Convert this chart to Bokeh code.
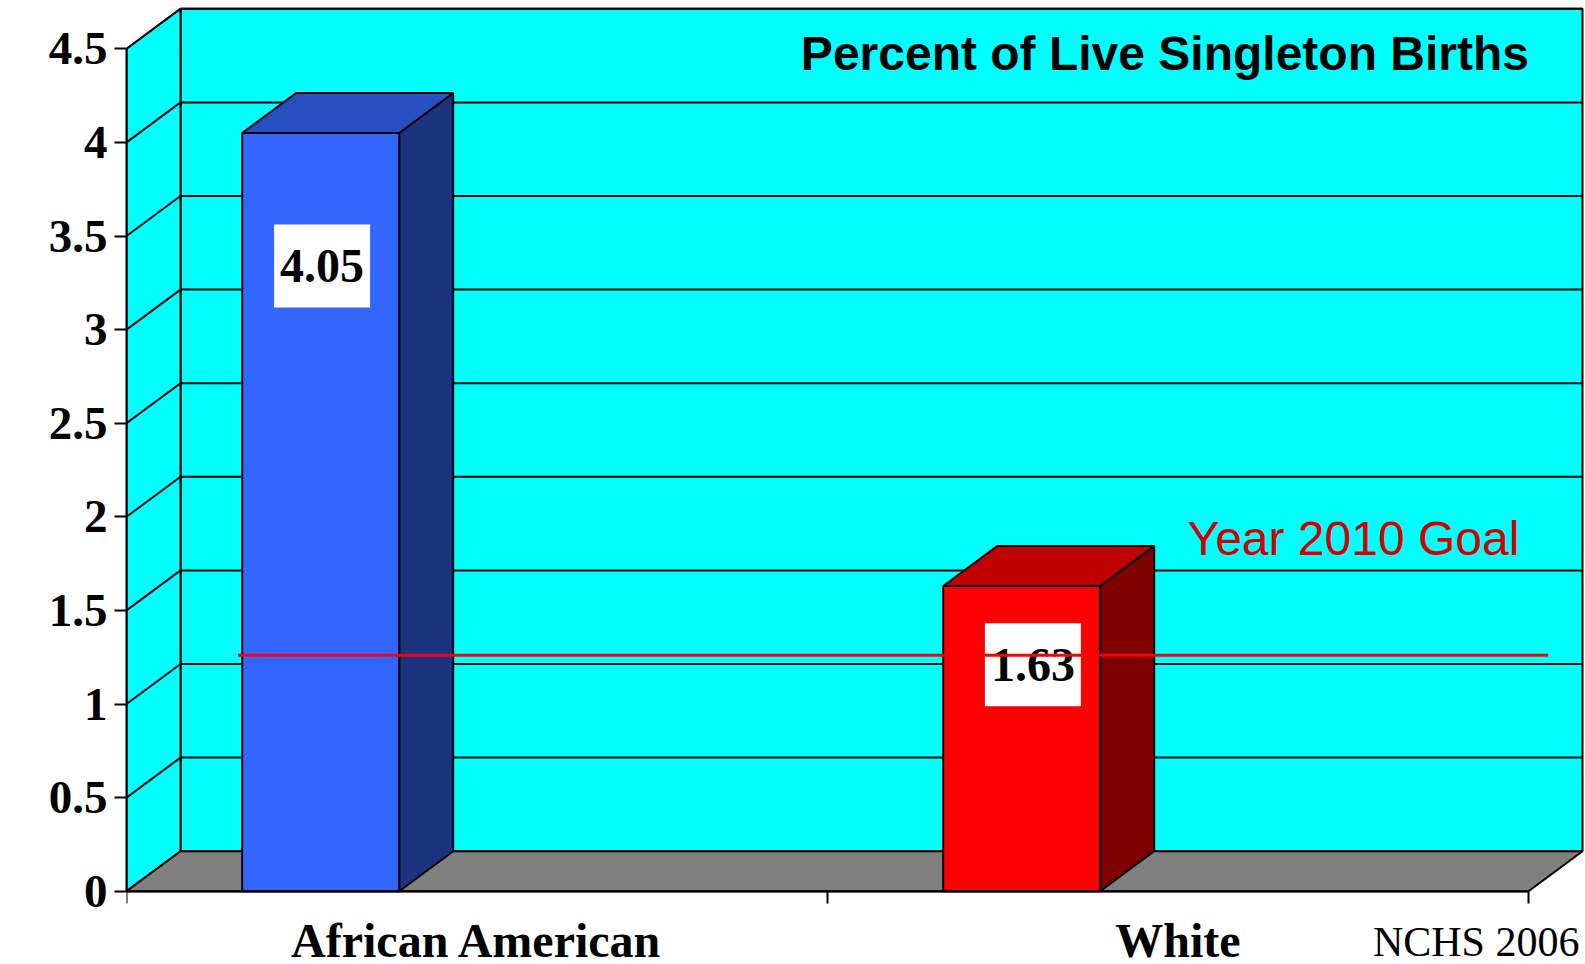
from bokeh.plotting import figure
from bokeh.models import (Range1d, LinearAxis, FixedTicker, CustomJSTickFormatter,
                          Label, ColumnDataSource)
from bokeh.core.properties import value
from bokeh.embed import file_html
from bokeh.resources import INLINE

# ---------------- data ----------------
categories = ["African American", "White"]
percent = [4.05, 1.63]
goal = 1.26
goal_label = "Year 2010 Goal"
y_ticks = [0, 0.5, 1, 1.5, 2, 2.5, 3, 3.5, 4, 4.5]
title = "Percent of Live Singleton Births"
source_note = "NCHS 2006"

# ---------------- styles ----------------
front_colors = ["#3366FF", "#FF0000"]
top_colors = ["#2650C0", "#C00000"]
side_colors = ["#1B3380", "#800000"]
WALL = "#00FFFF"
FLOOR = "#808080"

# ---------------- layout ----------------
W, H = 1585, 964
LEFT = 126
PX_X = 701.0      # px per x unit (one category)
PX_Y = 187.2      # px per percent
Y0 = 890.7        # screen y of value 0
DX = 54 / PX_X    # 3D depth offsets
DY = 40 / PX_Y
YMAX = 4.5
NC = len(categories)
LBL_SHIFT = 0.095

p = figure(width=W, height=H,
           x_range=Range1d(0, (W - LEFT) / PX_X),
           y_range=Range1d(-(H - Y0) / PX_Y, Y0 / PX_Y),
           output_backend="svg", toolbar_location=None,
           x_axis_type=None, y_axis_type=None,
           min_border_left=LEFT, min_border_right=0,
           min_border_top=0, min_border_bottom=0)
p.outline_line_color = None
p.background_fill_color = "white"
p.border_fill_color = "white"

# back wall
p.quad(left=[DX], right=[NC + DX], bottom=[DY], top=[YMAX + DY],
       fill_color=WALL, line_color="black", line_width=2)
# side wall
p.patch([0, DX, DX, 0], [0, DY, YMAX + DY, YMAX],
        fill_color=WALL, line_color="black", line_width=2)
# floor
p.patch([0, DX, NC + DX, NC], [0, DY, DY, 0],
        fill_color=FLOOR, line_color="black", line_width=2)

# gridlines
gl = [t for t in y_ticks if t > 0]
p.segment(x0=[DX] * len(gl), y0=[t + DY for t in gl],
          x1=[NC + DX] * len(gl), y1=[t + DY for t in gl],
          line_color="black", line_width=2)
p.segment(x0=[0] * len(gl), y0=gl, x1=[DX] * len(gl), y1=[t + DY for t in gl],
          line_color="black", line_width=2)

# bars
BAR_L, BAR_R = 0.165, 0.389
lefts = [i + BAR_L for i in range(NC)]
rights = [i + BAR_R for i in range(NC)]
src = ColumnDataSource(dict(
    left=lefts, right=rights, top=percent, front=front_colors,
    topc=top_colors, sidec=side_colors,
    top_xs=[[l, l + DX, r + DX, r] for l, r in zip(lefts, rights)],
    top_ys=[[v, v + DY, v + DY, v] for v in percent],
    side_xs=[[r, r + DX, r + DX, r] for r in rights],
    side_ys=[[0, DY, v + DY, v] for v in percent],
))
p.patches(xs="side_xs", ys="side_ys", fill_color="sidec", line_color="black",
          line_width=2, source=src)
p.patches(xs="top_xs", ys="top_ys", fill_color="topc", line_color="black",
          line_width=2, source=src)
p.quad(left="left", right="right", bottom=0, top="top", fill_color="front",
       line_color="black", line_width=2, source=src)

# value labels
label_x = [0.279, 1.293]
label_y = [3.34, 1.21]
p.rect(x=label_x, y=label_y, width=96, height=83, width_units="screen",
       height_units="screen", fill_color="white", line_color=None)
p.text(x=label_x, y=label_y, text=[f"{v:.2f}" for v in percent],
       text_font=value("Liberation Serif"), text_font_style="bold",
       text_font_size="48px", text_align="center", text_baseline="middle",
       text_color="black")

# goal line
p.segment(x0=[0.159], y0=[goal], x1=[2.028], y1=[goal],
          line_color="#FF0000", line_width=3)
p.add_layout(Label(x=1.5136, y=1.788 + LBL_SHIFT, text=goal_label,
                   text_color="#D40000",
                   text_font="Liberation Sans", text_font_size="48px",
                   text_baseline="alphabetic"))

# title
p.add_layout(Label(x=0.962, y=4.380 + LBL_SHIFT, text=title, text_color="black",
                   text_font="Liberation Sans", text_font_style="bold",
                   text_font_size="48px", text_baseline="alphabetic"))
# source
p.add_layout(Label(x=1.778, y=-0.366 + LBL_SHIFT, text=source_note,
                   text_color="black",
                   text_font="Liberation Serif", text_font_size="42px",
                   text_baseline="alphabetic"))

# y axis
yaxis = LinearAxis(ticker=FixedTicker(ticks=y_ticks),
                   formatter=CustomJSTickFormatter(
                       code="return (tick % 1 === 0) ? tick.toFixed(0) : tick.toFixed(1)"),
                   bounds=(0, YMAX), major_tick_out=12, major_tick_in=0,
                   minor_tick_out=0, minor_tick_in=0,
                   axis_line_width=2, major_tick_line_width=2,
                   axis_line_color="black", major_tick_line_color="black",
                   major_label_text_color="black",
                   major_label_text_font="Liberation Serif",
                   major_label_text_font_style="bold",
                   major_label_text_font_size="47px",
                   major_label_standoff=7)
p.add_layout(yaxis, "left")

# x axis: labels at category centres, tick marks at category boundaries
xaxis = LinearAxis(ticker=FixedTicker(ticks=[i + 0.5 for i in range(NC)],
                                      minor_ticks=list(range(NC + 1))),
                   fixed_location=0, bounds=(0, NC),
                   formatter=CustomJSTickFormatter(
                       args=dict(cats=categories),
                       code="return cats[Math.floor(tick)]"),
                   major_tick_out=0, major_tick_in=0,
                   minor_tick_out=12, minor_tick_in=0,
                   minor_tick_line_width=2, minor_tick_line_color="black",
                   axis_line_width=2, axis_line_color="black",
                   major_label_text_color="black",
                   major_label_text_font="Liberation Serif",
                   major_label_text_font_style="bold",
                   major_label_text_font_size="48px",
                   major_label_standoff=11)
p.add_layout(xaxis, "below")

open("out.html", "w").write(file_html(p, INLINE))
